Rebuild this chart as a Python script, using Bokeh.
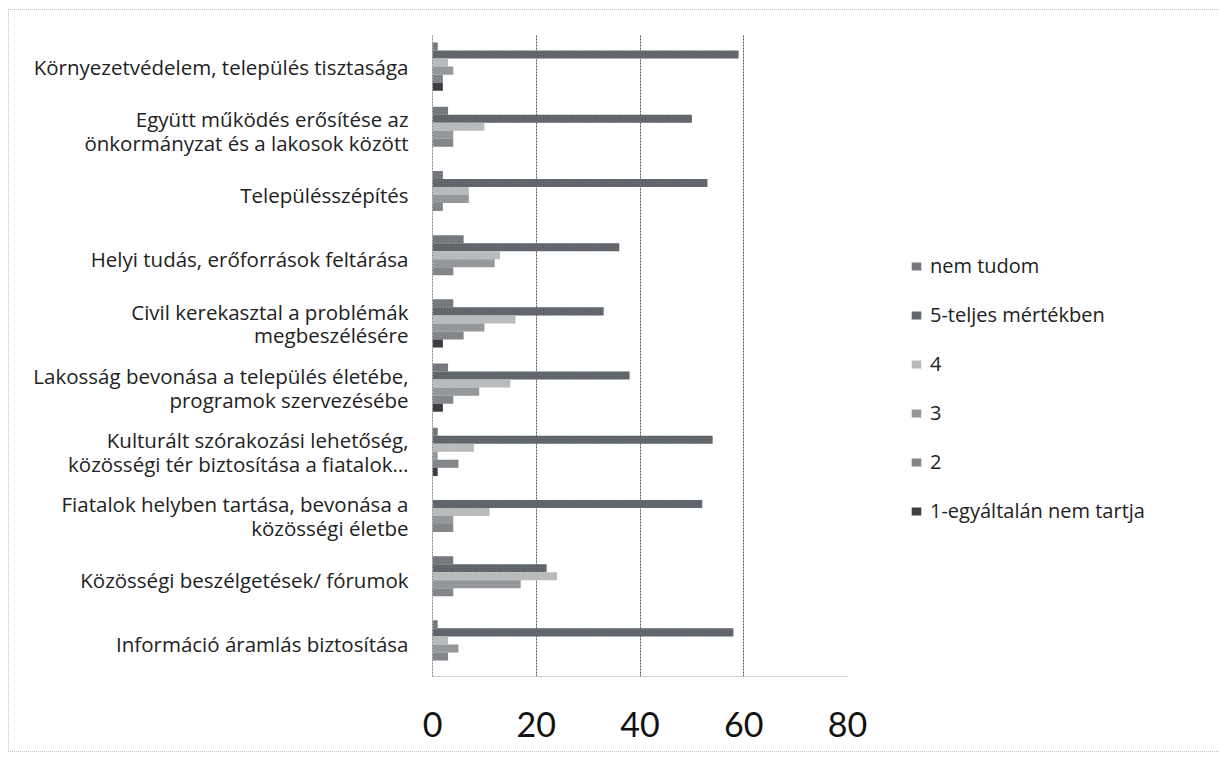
from bokeh.plotting import figure
from bokeh.models import ColumnDataSource, FactorRange, Legend, LegendItem
from bokeh.transform import dodge
from bokeh.embed import file_html
from bokeh.resources import INLINE

categories = [
    "Környezetvédelem, település tisztasága",
    "Együtt működés erősítése az\nönkormányzat és a lakosok között",
    "Településszépítés",
    "Helyi tudás, erőforrások feltárása",
    "Civil kerekasztal a problémák\nmegbeszélésére",
    "Lakosság bevonása a település életébe,\nprogramok szervezésébe",
    "Kulturált szórakozási lehetőség,\nközösségi tér biztosítása a fiatalok…",
    "Fiatalok helyben tartása, bevonása a\nközösségi életbe",
    "Közösségi beszélgetések/ fórumok",
    "Információ áramlás biztosítása",
]
series_names = ["nem tudom", "5-teljes mértékben", "4", "3", "2", "1-egyáltalán nem tartja"]
nem_tudom = [1, 3, 2, 6, 4, 3, 1, 0, 4, 1]
s5 = [59, 50, 53, 36, 33, 38, 54, 52, 22, 58]
s4 = [3, 10, 7, 13, 16, 15, 8, 11, 24, 3]
s3 = [4, 4, 7, 12, 10, 9, 1, 4, 17, 5]
s2 = [2, 4, 2, 4, 6, 4, 5, 4, 4, 3]
s1 = [2, 0, 0, 0, 2, 2, 1, 0, 0, 0]
x_ticks = [0, 20, 40, 60, 80]

colors = ["#6b6f74", "#565b61", "#b3b5b7", "#8d9093", "#7a7d81", "#2e3035"]
values = [nem_tudom, s5, s4, s3, s2, s1]
keys = ["nt", "s5", "s4", "s3", "s2", "s1"]

data = {"cat": categories}
for k, v in zip(keys, values):
    data[k] = v
src = ColumnDataSource(data)

p = figure(
    frame_width=415, frame_height=642,
    y_range=FactorRange(factors=list(reversed(categories))),
    x_range=(0, 80),
    output_backend="svg", toolbar_location=None,
    min_border_left=423, min_border_right=364, min_border_top=24, min_border_bottom=75,
)
p.styles = {"margin-left": "8px", "margin-top": "9px", "border": "1px dotted #c4c4c4"}

bh = 0.125
offsets = [2.5 * bh, 1.5 * bh, 0.5 * bh, -0.5 * bh, -1.5 * bh, -2.5 * bh]
items = []
for k, c, off, name in zip(keys, colors, offsets, series_names):
    r = p.hbar(y=dodge("cat", off, range=p.y_range), right=k, left=0, height=bh,
               source=src, fill_color=c, line_color=None,
               hatch_pattern="/", hatch_color="#ffffff", hatch_alpha=0.12, hatch_scale=3)
    items.append(LegendItem(label=name, renderers=[r]))

legend = Legend(items=items, location=(63, 152), padding=0, margin=0,
                border_line_color=None, background_fill_alpha=0,
                glyph_width=12, glyph_height=10, label_height=24, spacing=22,
                label_text_font="Open Sans", label_text_font_size="20px",
                label_text_color="#222222", label_standoff=8)
p.add_layout(legend, "right")

p.xaxis.ticker = x_ticks
p.xaxis.major_label_text_font = "Lato"
p.xaxis.major_label_text_font_size = "34px"
p.xaxis.major_label_text_color = "#111111"
p.xaxis.major_label_standoff = 29
p.xaxis.major_tick_line_color = None
p.xaxis.minor_tick_line_color = None
p.xaxis.axis_line_color = "#bbbbbb"
p.xaxis.axis_line_dash = "2 1"

p.yaxis.major_label_text_font = "Open Sans"
p.yaxis.major_label_text_font_size = "20.5px"
p.yaxis.major_label_text_line_height = 0.85
p.yaxis.major_label_text_color = "#222222"
p.yaxis.major_label_standoff = 18
p.yaxis.major_tick_line_color = None
p.yaxis.minor_tick_line_color = None
p.yaxis.axis_line_color = "#888888"
p.yaxis.axis_line_dash = "2 1"

p.xgrid.grid_line_color = "#555555"
p.xgrid.grid_line_dash = "2 1"
p.ygrid.grid_line_color = None
p.outline_line_color = None

open("out.html", "w").write(file_html(p, INLINE))
